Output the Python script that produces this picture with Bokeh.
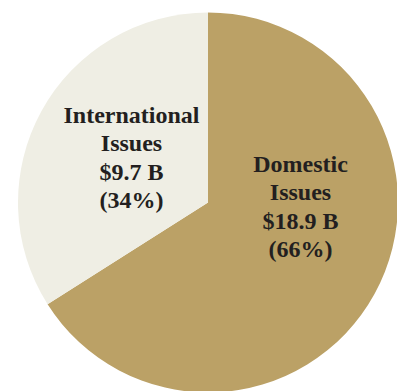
import math
from bokeh.plotting import figure
from bokeh.models import Range1d, ColumnDataSource
from bokeh.core.properties import value
from bokeh.embed import file_html
from bokeh.resources import INLINE

# ---- data ----
categories = ["Domestic Issues", "International Issues"]
amounts_b = [18.9, 9.7]          # billions of dollars
percents = [66, 34]
colors = ["#bba166", "#efeee4"]

# ---- layout ----
W, H = 397, 391
cx, cy, R = 207.5, H - 202, 190

p = figure(width=W, height=H, output_backend="svg", toolbar_location=None,
           x_range=Range1d(0, W), y_range=Range1d(0, H), min_border=0)
p.axis.visible = False
p.grid.visible = False
p.outline_line_color = None
p.background_fill_color = "white"
p.border_fill_color = "white"

# slices: Domestic clockwise from 12 o'clock, International counter-clockwise from 12 o'clock
total = sum(percents)
frac_dom = percents[0] / total
top = math.pi / 2
starts = [top - 2 * math.pi * frac_dom, top]
ends = [top, top + 2 * math.pi * (1 - frac_dom)]
src = ColumnDataSource(dict(start=starts, end=ends, color=colors))
p.wedge(x=cx, y=cy, radius=R, start_angle="start", end_angle="end",
        fill_color="color", line_color=None, source=src)

# labels
label_lines = []
for cat, amt, pct in zip(categories, amounts_b, percents):
    words = cat.split(" ")
    label_lines.append(words + [f"${amt} B", f"({pct}%)"])

label_x = [300, 131]
label_first_center = [163, 114]
line_gap = 28.5

xs, ys, ts = [], [], []
for lines, lx, ly in zip(label_lines, label_x, label_first_center):
    for i, t in enumerate(lines):
        xs.append(lx)
        ys.append(H - (ly + i * line_gap))
        ts.append(t)

p.text(x=xs, y=ys, text=ts, text_align="center", text_baseline="middle",
       text_font=value("Liberation Serif"), text_font_style="bold",
       text_font_size="24px", text_color="#231f20")

open("out.html", "w").write(file_html(p, INLINE))
